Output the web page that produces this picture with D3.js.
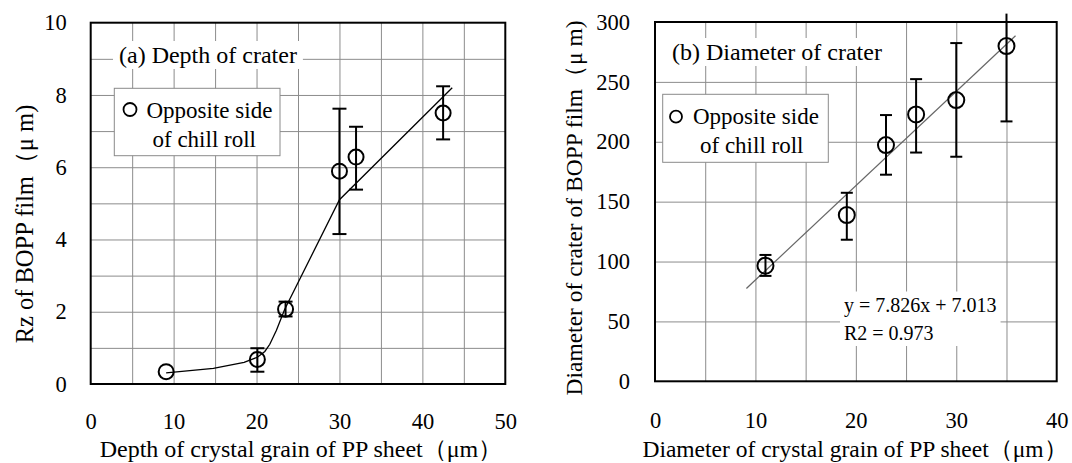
<!DOCTYPE html>
<html><head><meta charset="utf-8">
<script src="https://cdn.jsdelivr.net/npm/d3@7"></script>
<style>
html,body{margin:0;padding:0;background:#fff;}
svg{display:block;}
text{font-family:"Liberation Serif","Times New Roman",serif;fill:#000;}
</style></head>
<body>
<svg id="chart" width="1072" height="463"></svg>
<script>
// ---- Panel (a): Depth of crater ----
const depthX    = [9.1, 20.1, 23.5, 30.0, 32.0, 42.5];
const depthY    = [0.34, 0.68, 2.07, 5.89, 6.28, 7.50];
const depthLow  = [0.34, 0.34, 1.87, 4.15, 5.38, 6.77];
const depthHigh = [0.34, 0.99, 2.28, 7.62, 7.12, 8.24];
const depthCurveX = [9.1, 14.8, 18.5, 20.1, 21.0, 21.6, 22.4, 23.4, 30.0, 43.6];
const depthCurveY = [0.31, 0.43, 0.60, 0.74, 0.90, 1.10, 1.49, 2.07, 5.10, 8.20];
const depthXTicks = [0, 10, 20, 30, 40, 50];
const depthYTicks = [0, 2, 4, 6, 8, 10];
const depthXGrid = [5, 10, 15, 20, 25, 30, 35, 40, 45];
const depthYGrid = [1, 2, 3, 4, 5, 6, 7, 8, 9];

// ---- Panel (b): Diameter of crater ----
const diamX    = [11.0, 19.1, 23.0, 26.0, 30.0, 35.0];
const diamY    = [96.5, 138.8, 197.2, 222.8, 234.8, 279.9];
const diamLow  = [88.0, 118.2, 172.5, 191.0, 187.5, 217.0];
const diamHigh = [105.5, 157.4, 222.3, 252.3, 282.4, 307.0];
const diamTrendX = [9.1, 35.9];
const diamTrendY = [77.5, 288.5];
const diamXTicks = [0, 10, 20, 30, 40];
const diamYTicks = [0, 50, 100, 150, 200, 250, 300];
const diamXGrid = [5, 10, 15, 20, 25, 30, 35];
const diamYGrid = [50, 100, 150, 200, 250];

const svg = d3.select("#chart");

function panel(cfg){
  const g = svg.append("g");
  const x = d3.scaleLinear().domain(cfg.xDomain).range([cfg.left, cfg.right]);
  const y = d3.scaleLinear().domain(cfg.yDomain).range([cfg.bottom, cfg.top]);
  const w = cfg.right - cfg.left, h = cfg.bottom - cfg.top;

  // grid
  g.append("g").attr("transform",`translate(0,${cfg.bottom})`)
    .call(d3.axisBottom(x).tickValues(cfg.xGrid).tickSize(-h).tickFormat(""))
    .call(s=>{s.select(".domain").remove(); s.selectAll("line").attr("stroke","#8c8c8c").attr("stroke-width",1);});
  g.append("g").attr("transform",`translate(${cfg.left},0)`)
    .call(d3.axisLeft(y).tickValues(cfg.yGrid).tickSize(-w).tickFormat(""))
    .call(s=>{s.select(".domain").remove(); s.selectAll("line").attr("stroke","#8c8c8c").attr("stroke-width",1);});

  // tick labels
  g.append("g").attr("transform",`translate(0,${cfg.bottom})`)
    .call(d3.axisBottom(x).tickValues(cfg.xTicks).tickSize(0).tickPadding(cfg.xPad).tickFormat(d3.format("d")))
    .call(s=>{s.select(".domain").remove(); s.selectAll("text").attr("font-size",22.5);});
  g.append("g").attr("transform",`translate(${cfg.left},0)`)
    .call(d3.axisLeft(y).tickValues(cfg.yTicks).tickSize(0).tickPadding(cfg.yPad).tickFormat(d3.format("d")))
    .call(s=>{s.select(".domain").remove(); s.selectAll("text").attr("font-size",22.5);});

  // title with white background
  const tg = g.append("g");
  const tt = tg.append("text").attr("x",cfg.titleX).attr("y",cfg.titleY).attr("font-size",24).text(cfg.title);
  const bb = tt.node().getBBox();
  tg.insert("rect","text").attr("x",bb.x-6).attr("y",bb.y-1).attr("width",bb.width+12).attr("height",bb.height+2).attr("fill","#fff");

  // legend
  const lg = g.append("g");
  lg.append("rect").attr("x",cfg.leg.x0).attr("y",cfg.leg.y0).attr("width",cfg.leg.x1-cfg.leg.x0).attr("height",cfg.leg.y1-cfg.leg.y0)
    .attr("fill","#fff").attr("stroke","#8a8a8a").attr("stroke-width",1);
  lg.append("circle").attr("cx",cfg.leg.cx).attr("cy",cfg.leg.cy).attr("r",cfg.leg.r).attr("fill","none").attr("stroke","#000").attr("stroke-width",1.8);
  lg.append("text").attr("x",cfg.leg.t1x).attr("y",cfg.leg.t1y).attr("font-size",23).text("Opposite side");
  lg.append("text").attr("x",cfg.leg.t2x).attr("y",cfg.leg.t2y).attr("font-size",23).text("of chill roll");

  // frame
  g.append("rect").attr("x",cfg.left).attr("y",cfg.top).attr("width",w).attr("height",h)
    .attr("fill","none").attr("stroke","#000").attr("stroke-width",2);

  // axis titles
  g.append("text").attr("x",cfg.xTitleX).attr("y",cfg.xTitleY).attr("text-anchor","middle").attr("font-size",cfg.xTitleSize).text(cfg.xTitle);
  g.append("text").attr("transform",`translate(${cfg.yTitleX},${cfg.yTitleY}) rotate(-90)`).attr("text-anchor","middle").attr("font-size",cfg.yTitleSize).text(cfg.yTitle);

  return {g, x, y};
}

// ---------- Panel A ----------
const A = panel({
  xDomain:[0,50], yDomain:[0,10], left:90.7, right:505.3, top:22.7, bottom:384,
  xGrid:depthXGrid, yGrid:depthYGrid, xTicks:depthXTicks, yTicks:depthYTicks, xPad:29, yPad:24,
  title:"(a) Depth of crater", titleX:119, titleY:63,
  leg:{x0:114.3,x1:280,y0:88.3,y1:155.7,cx:130,cy:109.5,r:6.5,t1x:146.5,t1y:118,t2x:152.5,t2y:146.5},
  xTitle:"Depth of crystal grain of PP sheet（μm）", xTitleX:301, xTitleY:457, xTitleSize:24,
  yTitle:"Rz of BOPP film（μ m)", yTitleX:33, yTitleY:224, yTitleSize:24.5
});
A.g.append("path").datum(depthCurveX.map((v,i)=>[v,depthCurveY[i]]))
  .attr("fill","none").attr("stroke","#000").attr("stroke-width",1.3)
  .attr("d", d3.line().x(d=>A.x(d[0])).y(d=>A.y(d[1])).curve(d3.curveLinear));
const aErr = A.g.append("g").attr("stroke","#000").attr("stroke-width",2);
depthX.forEach((v,i)=>{
  if (depthHigh[i]===depthLow[i]) return;
  const cx = A.x(v);
  aErr.append("line").attr("x1",cx).attr("x2",cx).attr("y1",A.y(depthLow[i])).attr("y2",A.y(depthHigh[i]));
  aErr.append("line").attr("x1",cx-7).attr("x2",cx+7).attr("y1",A.y(depthLow[i])).attr("y2",A.y(depthLow[i]));
  aErr.append("line").attr("x1",cx-7).attr("x2",cx+7).attr("y1",A.y(depthHigh[i])).attr("y2",A.y(depthHigh[i]));
});
A.g.append("g").selectAll("circle").data(depthX).join("circle")
  .attr("cx",d=>A.x(d)).attr("cy",(d,i)=>A.y(depthY[i])).attr("r",7.5)
  .attr("fill","none").attr("stroke","#000").attr("stroke-width",2);

// ---------- Panel B ----------
const B = panel({
  xDomain:[0,40], yDomain:[0,300], left:655, right:1056.7, top:22, bottom:381.3,
  xGrid:diamXGrid, yGrid:diamYGrid, xTicks:diamXTicks, yTicks:diamYTicks, xPad:31, yPad:25,
  title:"(b) Diameter of crater", titleX:672, titleY:60,
  leg:{x0:662.7,x1:828.3,y0:94.3,y1:162.3,cx:676,cy:116.7,r:6,t1x:693,t1y:124,t2x:700,t2y:153},
  xTitle:"Diameter of crystal grain of PP sheet（μm）", xTitleX:855, xTitleY:457, xTitleSize:23.5,
  yTitle:"Diameter of crater of BOPP film（μ m)", yTitleX:582, yTitleY:208, yTitleSize:23.5
});
// equation label with white background
const eq = B.g.append("g");
const e1 = eq.append("text").attr("x",844).attr("y",311.5).attr("font-size",20).text("y = 7.826x + 7.013");
const e2 = eq.append("text").attr("x",844).attr("y",340).attr("font-size",20).text("R2 = 0.973");
const b1 = e1.node().getBBox(), b2 = e2.node().getBBox();
eq.insert("rect","text").attr("x",b1.x-4).attr("y",b1.y-2).attr("width",Math.max(b1.width,b2.width)+8).attr("height",b2.y+b2.height-b1.y+4).attr("fill","#fff");

B.g.append("path").datum(diamTrendX.map((v,i)=>[v,diamTrendY[i]]))
  .attr("fill","none").attr("stroke","#666").attr("stroke-width",1.2)
  .attr("d", d3.line().x(d=>B.x(d[0])).y(d=>B.y(d[1])));
const bErr = B.g.append("g").attr("stroke","#000").attr("stroke-width",2);
diamX.forEach((v,i)=>{
  const cx = B.x(v);
  bErr.append("line").attr("x1",cx).attr("x2",cx).attr("y1",B.y(diamLow[i])).attr("y2",B.y(diamHigh[i]));
  bErr.append("line").attr("x1",cx-6).attr("x2",cx+6).attr("y1",B.y(diamLow[i])).attr("y2",B.y(diamLow[i]));
  if (diamHigh[i] <= 300)
    bErr.append("line").attr("x1",cx-6).attr("x2",cx+6).attr("y1",B.y(diamHigh[i])).attr("y2",B.y(diamHigh[i]));
});
B.g.append("g").selectAll("circle").data(diamX).join("circle")
  .attr("cx",d=>B.x(d)).attr("cy",(d,i)=>B.y(diamY[i])).attr("r",8)
  .attr("fill","none").attr("stroke","#000").attr("stroke-width",2);
</script>
</body></html>
